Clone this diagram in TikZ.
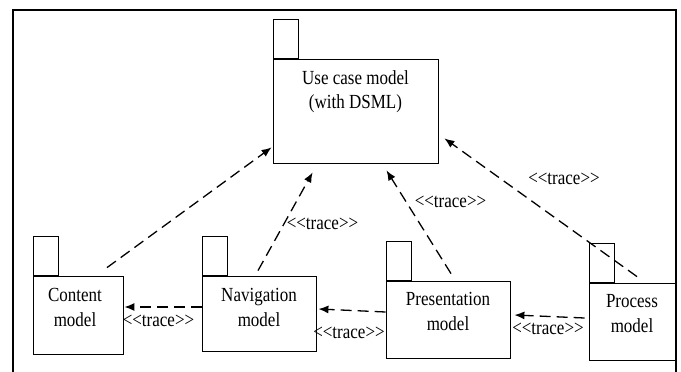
\documentclass[tikz,border=0pt]{standalone}
\usepackage{fontspec}
\setmainfont{Liberation Serif}[FakeStretch=0.85, Ligatures=TeXOff]
\usetikzlibrary{arrows.meta}

\begin{document}
\begin{tikzpicture}[x=1pt,y=-1pt,
  pkg/.style={draw, line width=0.8pt, inner sep=0pt},
  pkgtab/.style={draw, line width=0.8pt, inner sep=0pt, minimum width=25pt, minimum height=39pt, anchor=south west},
  pkgtext/.style={align=center, font=\fontsize{20}{24.5}\selectfont},
  tracelabel/.style={font=\fontsize{20}{24}\selectfont},
  tracearrow/.style={line width=1.3pt, dash pattern=on 11pt off 6pt, -{Latex[length=10pt,width=8pt]}}]
\tikzstyle{every node}+=[inner sep=0pt]
\useasboundingbox (0,0) rectangle (681,372);
% frame
\draw[line width=1.6pt] (13,372) -- (13,10) -- (676,10) -- (676,372);
% packages
\node[pkg, minimum width=165pt, minimum height=104pt] (usecase) at (355.5,111) {};
\node[pkgtab] (usecase-tab) at (usecase.north west) {};
\node[pkgtext] (usecase-text) at ([yshift=-33pt]usecase.north) {Use case model\\(with DSML)};
\node[pkg, minimum width=90pt, minimum height=78pt] (content) at (78,315) {};
\node[pkgtab] (content-tab) at (content.north west) {};
\node[pkgtext] (content-text) at ([xshift=-3pt,yshift=-32pt]content.north) {Content\\model};
\node[pkg, minimum width=114pt, minimum height=75pt] (nav) at (259,313.5) {};
\node[pkgtab] (nav-tab) at (nav.north west) {};
\node[pkgtext] (nav-text) at ([yshift=-32pt]nav.north) {Navigation\\model};
\node[pkg, minimum width=124pt, minimum height=77pt] (pres) at (448,319.5) {};
\node[pkgtab] (pres-tab) at (pres.north west) {};
\node[pkgtext] (pres-text) at ([yshift=-31pt]pres.north) {Presentation\\model};
\node[pkg, minimum width=86pt, minimum height=77pt] (process) at (632,321.5) {};
\node[pkgtab] (process-tab) at (process.north west) {};
\node[pkgtext] (process-text) at ([yshift=-31pt]process.north) {Process\\model};
% trace links
\draw[tracearrow] ([xshift=29pt,yshift=8pt]content.north) -- ([xshift=-1pt,yshift=16pt]usecase.south west);
\draw[tracearrow] ([xshift=-1pt,yshift=5pt]nav.north) -- ([xshift=40pt,yshift=-9pt]usecase.south west);
\draw[tracearrow] ([xshift=3pt,yshift=7pt]pres.north) -- ([xshift=31pt,yshift=-7pt]usecase.south);
\draw[tracearrow] ([xshift=5pt,yshift=6pt]process.north) -- ([xshift=6pt,yshift=25pt]usecase.south east);
\draw[tracearrow] ([yshift=6.5pt]nav.west) -- ([xshift=1pt,yshift=8pt]content.east);
\draw[tracearrow] ([yshift=7.5pt]pres.west) -- ([xshift=2pt,yshift=4.5pt]nav.east);
\draw[tracearrow] ([xshift=-4pt,yshift=3.5pt]process.west) -- ([xshift=4pt,yshift=4.5pt]pres.east);
% labels
\node[tracelabel] (trace-content) at (158.5,321) {<<trace>>};
\node[tracelabel] (trace-nav) at (349,333) {<<trace>>};
\node[tracelabel] (trace-pres) at (548,329) {<<trace>>};
\node[tracelabel] (trace-nav-up) at (322.5,224) {<<trace>>};
\node[tracelabel] (trace-pres-up) at (450.5,202) {<<trace>>};
\node[tracelabel] (trace-process-up) at (564,179) {<<trace>>};
\end{tikzpicture}
\end{document}
